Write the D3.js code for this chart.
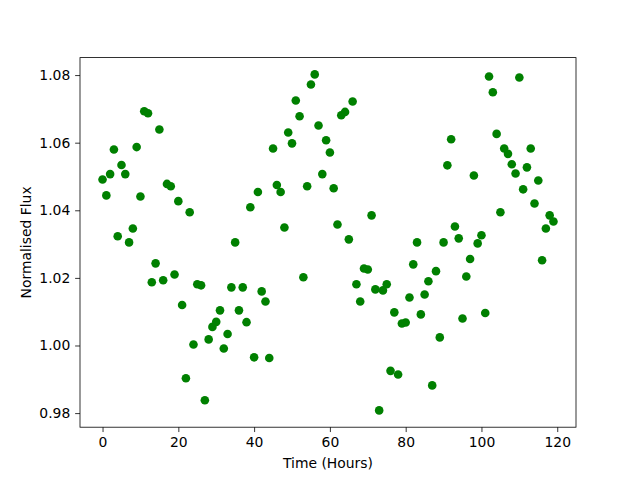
<!DOCTYPE html>
<html>
<head>
<meta charset="utf-8">
<script src="https://cdn.jsdelivr.net/npm/d3@7"></script>
<style>
  html, body { margin: 0; padding: 0; background: #fff; }
  svg text { font-family: "DejaVu Sans", sans-serif; fill: #000; }
</style>
</head>
<body>
<div id="chart"></div>
<script>
const hours = d3.range(0, 120);
const flux = [
  1.0491, 1.0444, 1.0507, 1.0580, 1.0323, 1.0534, 1.0507, 1.0305, 1.0346, 1.0587,
  1.0441, 1.0693, 1.0687, 1.0187, 1.0243, 1.0639, 1.0193, 1.0478, 1.0471, 1.0210,
  1.0427, 1.0120, 0.9903, 1.0394, 1.0003, 1.0181, 1.0178, 0.9838, 1.0018, 1.0055,
  1.0070, 1.0104, 0.9991, 1.0034, 1.0172, 1.0305, 1.0104, 1.0172, 1.0069, 1.0409,
  0.9965, 1.0454, 1.0160, 1.0130, 0.9963, 1.0583, 1.0475, 1.0454, 1.0349, 1.0630,
  1.0598, 1.0725, 1.0678, 1.0202, 1.0471, 1.0772, 1.0802, 1.0651, 1.0507, 1.0607,
  1.0571, 1.0465, 1.0358, 1.0681, 1.0691, 1.0314, 1.0722, 1.0181, 1.0130, 1.0228,
  1.0225, 1.0385, 1.0166, 0.9808, 1.0163, 1.0181, 0.9925, 1.0098, 0.9914, 1.0065,
  1.0068, 1.0142, 1.0240, 1.0305, 1.0092, 1.0151, 1.0190, 0.9882, 1.0220, 1.0024,
  1.0305, 1.0533, 1.0610, 1.0352, 1.0317, 1.0080, 1.0204, 1.0256, 1.0503, 1.0302,
  1.0326, 1.0096, 1.0796, 1.0749, 1.0626, 1.0394, 1.0583, 1.0567, 1.0536, 1.0509,
  1.0793, 1.0462, 1.0527, 1.0583, 1.0420, 1.0488, 1.0252, 1.0346, 1.0385, 1.0367
];
const xTicks = [0, 20, 40, 60, 80, 100, 120];
const yTicks = [0.98, 1.00, 1.02, 1.04, 1.06, 1.08];
const xLabel = "Time (Hours)";
const yLabel = "Normalised Flux";

const W = 640, H = 480;
const mLeft = 80, mRight = 576, mTop = 57.6, mBottom = 427.2;

function padded(ext) {
  const r = ext[1] - ext[0];
  return [ext[0] - 0.05 * r, ext[1] + 0.05 * r];
}

const x = d3.scaleLinear().domain(padded(d3.extent(hours))).range([mLeft, mRight]);
const y = d3.scaleLinear().domain(padded(d3.extent(flux))).range([mBottom, mTop]);

const svg = d3.select("#chart").append("svg")
  .attr("width", W).attr("height", H)
  .style("display", "block");

svg.append("rect").attr("width", W).attr("height", H).attr("fill", "#fff");

const data = hours.map((h, i) => ({ h, f: flux[i] }));

svg.append("g").selectAll("circle").data(data).join("circle")
  .attr("cx", d => x(d.h))
  .attr("cy", d => y(d.f))
  .attr("r", 4.3)
  .attr("fill", "#008000");

const fontPx = 13.9;
const tickLen = 4.86, tickPad = 4.86;

const xAxis = d3.axisBottom(x).tickValues(xTicks).tickFormat(d3.format("d"))
  .tickSizeInner(tickLen).tickSizeOuter(0).tickPadding(tickPad);
const gx = svg.append("g").attr("transform", `translate(0,${mBottom})`).call(xAxis);
gx.select(".domain").remove();
gx.selectAll(".tick line").attr("stroke", "#000").attr("stroke-width", 0.8);
gx.selectAll(".tick text").style("font-size", fontPx + "px").attr("fill", "#000")
  .style("font-family", "DejaVu Sans, sans-serif");

const yAxis = d3.axisLeft(y).tickValues(yTicks).tickFormat(d3.format(".2f"))
  .tickSizeInner(tickLen).tickSizeOuter(0).tickPadding(tickPad);
const gy = svg.append("g").attr("transform", `translate(${mLeft},0)`).call(yAxis);
gy.select(".domain").remove();
gy.selectAll(".tick line").attr("stroke", "#000").attr("stroke-width", 0.8);
gy.selectAll(".tick text").style("font-size", fontPx + "px").attr("fill", "#000")
  .style("font-family", "DejaVu Sans, sans-serif");

svg.append("rect")
  .attr("x", mLeft).attr("y", mTop)
  .attr("width", mRight - mLeft).attr("height", mBottom - mTop)
  .attr("fill", "none").attr("stroke", "#000").attr("stroke-width", 0.8);

svg.append("text")
  .attr("x", (mLeft + mRight) / 2).attr("y", 468)
  .attr("text-anchor", "middle")
  .style("font-size", fontPx + "px")
  .text(xLabel);

svg.append("text")
  .attr("transform", `translate(31,${(mTop + mBottom) / 2}) rotate(-90)`)
  .attr("text-anchor", "middle")
  .style("font-size", fontPx + "px")
  .text(yLabel);
</script>
</body>
</html>
